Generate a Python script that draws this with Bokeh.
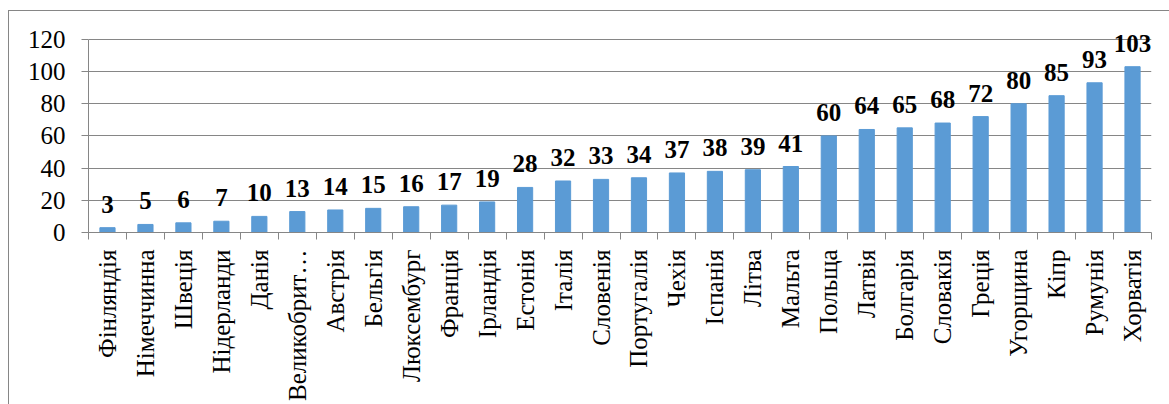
from bokeh.plotting import figure
from bokeh.models import Range1d, FixedTicker
from bokeh.core.properties import value
from bokeh.embed import file_html
from bokeh.resources import INLINE
import math

countries = ["Фінляндія", "Німеччинна", "Швеція", "Нідерланди", "Данія", "Великобрит…",
             "Австрія", "Бельгія", "Люксембург", "Франція", "Ірландія", "Естонія",
             "Італія", "Словенія", "Португалія", "Чехія", "Іспанія", "Літва", "Мальта",
             "Польща", "Латвія", "Болгарія", "Словакія", "Греція", "Угорщина", "Кіпр",
             "Румунія", "Хорватія"]
ranks = [3, 5, 6, 7, 10, 13, 14, 15, 16, 17, 19, 28, 32, 33, 34, 37, 38, 39, 41,
         60, 64, 65, 68, 72, 80, 85, 93, 103]
y_ticks = [0, 20, 40, 60, 80, 100, 120]

xs = list(range(len(countries)))
FONT = "Liberation Serif"
GRID = "#868686"

W, H = 1169, 404
LEFT, RIGHT, TOP, BOTTOM = 88, 18, 20, 170

p = figure(width=W, height=H, output_backend="svg", toolbar_location=None,
           x_range=Range1d(-0.5, len(countries) - 0.5), y_range=Range1d(0, 131.7),
           min_border_left=LEFT, min_border_right=RIGHT, min_border_top=TOP, min_border_bottom=BOTTOM)
p.outline_line_color = None
p.background_fill_color = "white"
p.border_fill_color = None
# chart-area border (left edge at x=8, top edge at y=10), drawn behind the transparent canvas border
p.styles = {
    "background": (f"linear-gradient({GRID},{GRID}) 8px 10px / 1px 100% no-repeat, "
                   f"linear-gradient({GRID},{GRID}) 8px 10px / 100% 1px no-repeat, white"),
}

p.vbar(x=xs, top=ranks, width=0.4, color="#5B9BD5")
p.text(x=xs, y=ranks, text=[str(r) for r in ranks], text_align="center",
       text_baseline="bottom", y_offset=-15, text_font=value(FONT),
       text_font_style="bold", text_font_size="25px", text_color="black")

# y axis
p.yaxis.ticker = FixedTicker(ticks=y_ticks)
p.yaxis.bounds = (0, 120)
p.yaxis.axis_line_color = GRID
p.yaxis.major_tick_line_color = GRID
p.yaxis.major_tick_out = 7
p.yaxis.major_tick_in = 0
p.yaxis.minor_tick_line_color = None
p.yaxis.major_label_standoff = 16
p.yaxis.major_label_text_font = FONT
p.yaxis.major_label_text_font_size = "25px"
p.yaxis.major_label_text_color = "black"

# x axis
p.xaxis.ticker = FixedTicker(ticks=xs, minor_ticks=[i - 0.5 for i in range(len(countries) + 1)])
p.xaxis.major_label_overrides = {i: c for i, c in enumerate(countries)}
p.xaxis.major_label_orientation = math.pi / 2
p.xaxis.axis_line_color = GRID
p.xaxis.major_tick_line_color = None
p.xaxis.major_tick_out = 0
p.xaxis.major_tick_in = 0
p.xaxis.minor_tick_line_color = GRID
p.xaxis.minor_tick_out = 7
p.xaxis.minor_tick_in = 0
p.xaxis.major_label_standoff = 10
p.xaxis.major_label_text_font = FONT
p.xaxis.major_label_text_font_size = "25px"
p.xaxis.major_label_text_color = "black"

p.xgrid.grid_line_color = None
p.ygrid.grid_line_color = GRID
p.ygrid.grid_line_width = 1

open("out.html", "w").write(file_html(p, INLINE))
